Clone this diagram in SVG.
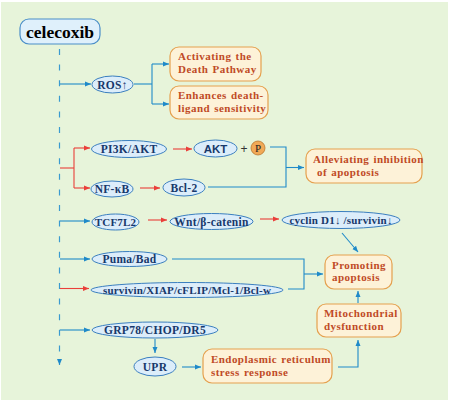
<svg xmlns="http://www.w3.org/2000/svg" width="450" height="402" viewBox="0 0 450 402">
<defs>
<style>
text{font-family:"Liberation Serif","Times New Roman","DejaVu Serif",serif}
.ell{fill:#dcedfa;stroke:#3b7fbf;stroke-width:1}
.et{font-weight:bold;font-size:11.5px;fill:#17386a;text-anchor:middle;letter-spacing:0.3px}
.et2{font-weight:bold;font-size:11px;fill:#17386a;text-anchor:middle;letter-spacing:0.2px}
.box{fill:#fdf2d8;stroke:#e5a04e;stroke-width:1.2}
.bt{font-weight:bold;font-size:11px;fill:#c04a26;letter-spacing:0.45px;word-spacing:1px}
.b{fill:none;stroke:#1f8ac9;stroke-width:1.1}
.r{fill:none;stroke:#ea3f3a;stroke-width:1.1}
.sans{font-family:"Liberation Sans",Arial,sans-serif}
</style>
<marker id="ab" viewBox="0 0 6 6" refX="6" refY="3" markerWidth="6" markerHeight="6" markerUnits="userSpaceOnUse" orient="auto"><path d="M0,0.5 L6,3 L0,5.5 Z" fill="#1f8ac9"/></marker>
<marker id="ar" viewBox="0 0 6 6" refX="6" refY="3" markerWidth="6" markerHeight="6" markerUnits="userSpaceOnUse" orient="auto"><path d="M0,0.5 L6,3 L0,5.5 Z" fill="#ea3f3a"/></marker>
</defs>
<rect x="0" y="0" width="450" height="402" fill="#ffffff"/>
<rect x="1" y="2" width="447" height="398" fill="#e7f4da"/>

<g id="connectors">
<path d="M59.5,49 V365" fill="none" stroke="#3a9ad0" stroke-width="1.2" stroke-dasharray="6 9.6" marker-end="url(#ab)"/>
<path class="b" d="M60,84 H91" marker-end="url(#ab)"/>
<path class="b" d="M134,84 H152"/>
<path class="b" d="M152,64 V104"/>
<path class="b" d="M152,64 H169" marker-end="url(#ab)"/>
<path class="b" d="M152,104 H169" marker-end="url(#ab)"/>
<path class="r" d="M60,168 H74"/>
<path class="r" d="M74,148 V188"/>
<path class="r" d="M74,148 H90" marker-end="url(#ar)"/>
<path class="r" d="M74,188 H90" marker-end="url(#ar)"/>
<path class="r" d="M173,149 H192" marker-end="url(#ar)"/>
<path class="r" d="M140,188 H160" marker-end="url(#ar)"/>
<path class="b" d="M270,147 H286 V187 H208"/>
<path class="b" d="M286,167.5 H304" marker-end="url(#ab)"/>
<path class="b" d="M60,221 H90" marker-end="url(#ab)"/>
<path class="r" d="M148,220 H167" marker-end="url(#ar)"/>
<path class="r" d="M260,219 H279" marker-end="url(#ar)"/>
<path class="b" d="M342,233 L358,252" marker-end="url(#ab)"/>
<path class="b" d="M60,259 H90" marker-end="url(#ab)"/>
<path class="b" d="M172,259 H304 V289 H288"/>
<path class="b" d="M304,274 H323" marker-end="url(#ab)"/>
<path class="r" d="M60,288.5 H89" marker-end="url(#ar)"/>
<path class="b" d="M60,330 H90" marker-end="url(#ab)"/>
<path class="b" d="M155,339 V353" marker-end="url(#ab)"/>
<path class="b" d="M182,367 H201" marker-end="url(#ab)"/>
<path class="b" d="M338,367 H358 V340" marker-end="url(#ab)"/>
<path class="b" d="M358,303 V291" marker-end="url(#ab)"/>
</g>

<g id="celecoxib">
<rect x="20" y="19" width="80" height="25" rx="9" fill="#dff0fb" stroke="#4a8ec8" stroke-width="1.2"/>
<text x="60" y="37.5" font-weight="bold" font-size="17.5" text-anchor="middle" fill="#000">celecoxib</text>
</g>
<g id="ros"><ellipse class="ell" cx="112.5" cy="84.5" rx="20.5" ry="8.5"/><text class="et" x="112.5" y="88.5">ROS↑</text></g>
<g id="activating"><rect class="box" x="170" y="47" width="91" height="34" rx="9"/><text class="bt" x="178" y="60">Activating the</text><text class="bt" x="178" y="73">Death Pathway</text></g>
<g id="enhances"><rect class="box" x="170" y="86" width="98" height="33" rx="9"/><text class="bt" x="178" y="99">Enhances death-</text><text class="bt" x="178" y="112">ligand sensitivity</text></g>
<g id="pi3k"><ellipse class="ell" cx="129" cy="149" rx="37.5" ry="8.5"/><text class="et" x="129" y="153">PI3K/AKT</text></g>
<g id="akt"><ellipse class="ell" cx="215.5" cy="148.5" rx="21.5" ry="8.5"/><text class="sans" x="215.5" y="152.5" font-weight="bold" font-size="11.5" text-anchor="middle" fill="#17386a">AKT</text></g>
<g id="plus"><text class="sans" x="244" y="152.5" font-size="12" text-anchor="middle" fill="#333">+</text></g>
<g id="p"><circle cx="258" cy="148" r="7" fill="#f1a957" stroke="#b9772e" stroke-width="0.8"/><text x="258" y="152" font-size="11" text-anchor="middle" fill="#222">P</text></g>
<g id="nfkb"><ellipse class="ell" cx="112" cy="189" rx="21" ry="8"/><text class="et" x="112" y="193">NF-κB</text></g>
<g id="bcl2"><ellipse class="ell" cx="184" cy="187.5" rx="21" ry="8.5"/><text class="et" x="184" y="191.5">Bcl-2</text></g>
<g id="alleviating"><rect class="box" x="306" y="149" width="116" height="34" rx="9"/><text class="bt" x="313" y="163">Alleviating inhibition</text><text class="bt" x="317" y="175.5">of apoptosis</text></g>
<g id="tcf7l2"><ellipse class="ell" cx="115.5" cy="222" rx="23.5" ry="8"/><text class="et2" x="115.5" y="226">TCF7L2</text></g>
<g id="wnt"><ellipse class="ell" cx="211.5" cy="221.5" rx="41.5" ry="8"/><text class="et" x="211.5" y="225.5">Wnt/β-catenin</text></g>
<g id="cyclin"><ellipse class="ell" cx="341" cy="220" rx="59" ry="8.5"/><text class="et2" x="341" y="224">cyclin D1↓ /survivin↓</text></g>
<g id="puma"><ellipse class="ell" cx="129.5" cy="259" rx="37.5" ry="7.5"/><text class="et" x="129.5" y="263">Puma/Bad</text></g>
<g id="survivin"><ellipse class="ell" cx="187" cy="290" rx="96" ry="7.5"/><text class="et2" x="187" y="294">survivin/XIAP/cFLIP/Mcl-1/Bcl-w</text></g>
<g id="promoting"><rect class="box" x="325" y="255" width="67" height="34" rx="9"/><text class="bt" x="332" y="268.5">Promoting</text><text class="bt" x="332" y="281">apoptosis</text></g>
<g id="mito"><rect class="box" x="317" y="304" width="84" height="33" rx="9"/><text class="bt" x="324" y="317">Mitochondrial</text><text class="bt" x="324" y="329.5">dysfunction</text></g>
<g id="grp78"><ellipse class="ell" cx="155" cy="330" rx="63" ry="8"/><text class="et" x="155" y="334">GRP78/CHOP/DR5</text></g>
<g id="upr"><ellipse class="ell" cx="155" cy="366.5" rx="21" ry="9.5"/><text class="et" x="155" y="370.5">UPR</text></g>
<g id="er"><rect class="box" x="203" y="349" width="129" height="34" rx="9"/><text class="bt" x="211" y="363">Endoplasmic reticulum</text><text class="bt" x="211" y="375.5">stress response</text></g>
</svg>
